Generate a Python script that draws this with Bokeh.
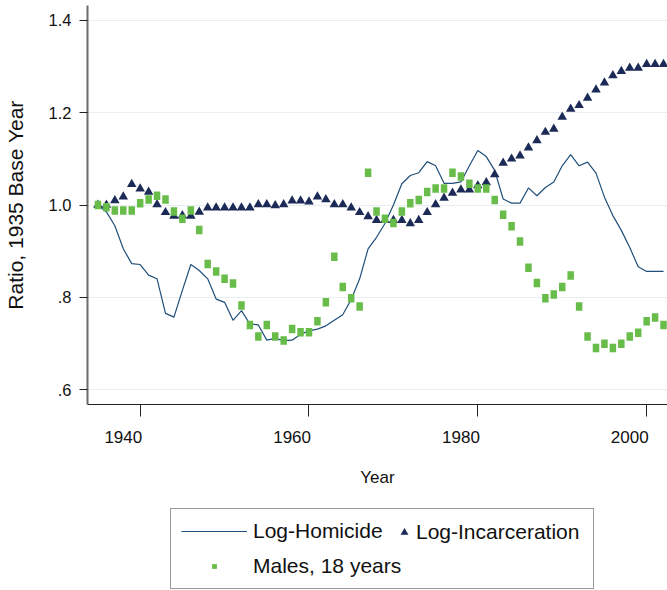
from bokeh.plotting import figure
from bokeh.layouts import column
from bokeh.models import Range1d, FixedTicker, LinearAxis, Legend, LegendItem, ColumnDataSource
from bokeh.embed import file_html
from bokeh.resources import INLINE

# ---------------- data ----------------
years = list(range(1935, 2003))

homicide = [
    1.000, 0.985, 0.955, 0.905, 0.873, 0.871, 0.848, 0.840, 0.765, 0.757,
    0.815, 0.871, 0.858, 0.840, 0.796, 0.789, 0.750, 0.771, 0.742, 0.740,
    0.707, 0.711, 0.706, 0.707, 0.720, 0.727, 0.731, 0.738, 0.750, 0.762,
    0.795, 0.840, 0.905, 0.930, 0.960, 1.000, 1.046, 1.064, 1.070, 1.094,
    1.085, 1.047, 1.047, 1.050, 1.085, 1.118, 1.105, 1.075, 1.013, 1.004,
    1.004, 1.037, 1.020, 1.038, 1.050, 1.085, 1.109, 1.085, 1.093, 1.069,
    1.017, 0.977, 0.945, 0.908, 0.866, 0.856, 0.856, 0.856,
]

incarceration = [
    1.000, 1.000, 1.010, 1.018, 1.045, 1.035, 1.028, 1.001, 0.984, 0.976,
    0.977, 0.976, 0.985, 0.994, 0.994, 0.994, 0.994, 0.994, 0.994, 1.001,
    1.001, 0.999, 1.001, 1.009, 1.009, 1.007, 1.018, 1.012, 1.001, 1.001,
    0.994, 0.984, 0.975, 0.967, 0.967, 0.967, 0.967, 0.960, 0.967, 0.984,
    1.001, 1.015, 1.026, 1.033, 1.033, 1.042, 1.049, 1.066, 1.091, 1.100,
    1.107, 1.124, 1.140, 1.158, 1.165, 1.191, 1.208, 1.216, 1.232, 1.250,
    1.265, 1.281, 1.290, 1.297, 1.297, 1.305, 1.305, 1.305,
]

males18 = [
    1.000, 0.995, 0.988, 0.988, 0.988, 1.004, 1.012, 1.020, 1.012, 0.986,
    0.970, 0.988, 0.946, 0.872, 0.856, 0.840, 0.830, 0.782, 0.740, 0.715,
    0.740, 0.715, 0.706, 0.731, 0.724, 0.724, 0.748, 0.789, 0.888, 0.822,
    0.798, 0.780, 1.070, 0.986, 0.970, 0.961, 0.986, 1.004, 1.011, 1.028,
    1.036, 1.036, 1.070, 1.062, 1.046, 1.036, 1.036, 1.011, 0.979, 0.954,
    0.921, 0.864, 0.831, 0.798, 0.806, 0.822, 0.847, 0.780, 0.715, 0.690,
    0.699, 0.690, 0.699, 0.715, 0.723, 0.748, 0.756, 0.740,
]

x_ticks = [1940, 1960, 1980, 2000]
x_tick_labels = ["1940", "1960", "1980", "2000"]
y_ticks = [0.6, 0.8, 1.0, 1.2, 1.4]
y_tick_labels = [".6", ".8", "1.0", "1.2", "1.4"]

series_names = ["Log-Homicide", "Log-Incarceration", "Males, 18 years"]

# ---------------- styling ----------------
FONT = "Liberation Sans"
LINE_COLOR = "#1f4f7a"
TRI_COLOR = "#1b2a56"
GREEN = "#68bd4a"
GRID = "#e6eef1"
TEXT = "#111111"

src = ColumnDataSource(dict(year=years, hom=homicide, inc=incarceration, male=males18))

p = figure(
    width=667, height=505,
    x_range=Range1d(1933.76, 2002.47),
    y_range=Range1d(0.5675, 1.4325),
    output_backend="svg", toolbar_location=None,
    min_border_left=83, min_border_right=0, min_border_top=5, min_border_bottom=101,
)
p.outline_line_color = None
p.background_fill_color = "white"
p.border_fill_color = "white"

# grid
p.xgrid.visible = False
p.ygrid.ticker = FixedTicker(ticks=y_ticks)
p.ygrid.grid_line_color = GRID
p.ygrid.grid_line_width = 1

# x axis: tick marks only
xa = p.xaxis[0]
xa.ticker = FixedTicker(ticks=x_ticks)
xa.major_label_overrides = {t: "" for t in x_ticks}
xa.major_label_text_font_size = "0px"
xa.major_label_standoff = 0
xa.major_tick_out = 12
xa.major_tick_in = 0
xa.minor_tick_line_color = None
xa.axis_line_color = "#222222"
xa.major_tick_line_color = "#222222"

# x axis: labels (right-aligned to their ticks in the reference, hence shifted 2 years left)
label_pos = [t - 2 for t in x_ticks]
xl = LinearAxis(
    ticker=FixedTicker(ticks=label_pos),
    major_label_overrides=dict(zip(label_pos, x_tick_labels)),
    axis_line_color=None, major_tick_line_color=None, minor_tick_line_color=None,
    major_tick_out=0, major_tick_in=0, major_label_standoff=14,
    major_label_text_font=FONT, major_label_text_font_size="17px",
    major_label_text_color=TEXT,
    axis_label="Year", axis_label_text_font=FONT, axis_label_text_font_size="17px",
    axis_label_text_font_style="normal", axis_label_text_color=TEXT,
    axis_label_standoff=22,
)
p.add_layout(xl, "below")

# y axis
ya = p.yaxis[0]
ya.ticker = FixedTicker(ticks=y_ticks)
ya.major_label_overrides = dict(zip(y_ticks, y_tick_labels))
ya.major_tick_out = 8
ya.major_tick_in = 0
ya.minor_tick_line_color = None
ya.axis_line_color = "#6b6b6b"
ya.axis_line_width = 2
ya.major_tick_line_color = "#222222"
ya.major_label_standoff = 8
ya.major_label_text_font = FONT
ya.major_label_text_font_size = "16.5px"
ya.major_label_text_color = TEXT
ya.axis_label = "Ratio, 1935 Base Year"
ya.axis_label_text_font = FONT
ya.axis_label_text_font_size = "21px"
ya.axis_label_text_font_style = "normal"
ya.axis_label_text_color = TEXT
ya.axis_label_standoff = 19

# glyphs
p.line("year", "hom", source=src, line_color=LINE_COLOR, line_width=1.2)
p.scatter("year", "inc", source=src, marker="triangle", size=9.5,
          fill_color=TRI_COLOR, line_color=None)
p.rect("year", "male", source=src, width=6.5, height=8.5,
       width_units="screen", height_units="screen",
       fill_color=GREEN, line_color=None)

# ---------------- legend strip (separate figure below the plot) ----------------
leg = figure(
    width=667, height=85, x_range=Range1d(0, 1), y_range=Range1d(0, 1),
    output_backend="svg", toolbar_location=None,
    x_axis_type=None, y_axis_type=None,
    min_border_left=0, min_border_right=0, min_border_top=0, min_border_bottom=0,
)
leg.outline_line_color = None
leg.xgrid.visible = False
leg.ygrid.visible = False
leg.background_fill_color = "white"
leg.border_fill_color = "white"

# legend key renderers share the data source (their marks fall outside this strip's ranges)
k_line = leg.line("year", "hom", source=src, line_color=LINE_COLOR, line_width=1.2)
k_tri = leg.scatter("year", "inc", source=src, marker="triangle",
                    fill_color=TRI_COLOR, line_color=None)
k_sq = leg.scatter("year", "male", source=src, marker="square",
                   fill_color=GREEN, line_color=None)

# the strip's frame is aligned with the main plot's frame (x offsets relative to it)
leg_a = Legend(
    items=[LegendItem(label=series_names[0], renderers=[k_line]),
           LegendItem(label=series_names[2], renderers=[k_sq])],
    location=(83, 1), orientation="vertical",
    glyph_width=66, glyph_height=12, label_height=24, label_width=330,
    label_standoff=6, spacing=11, padding=10, margin=0,
    label_text_font=FONT, label_text_font_size="21px", label_text_color=TEXT,
    border_line_color="#333333", border_line_width=1,
    background_fill_color="white", background_fill_alpha=1.0,
)
leg_b = Legend(
    items=[LegendItem(label=series_names[1], renderers=[k_tri])],
    location=(307, 46), orientation="vertical",
    glyph_width=20, glyph_height=20, label_height=24,
    label_standoff=2, spacing=0, padding=0, margin=0,
    label_text_font=FONT, label_text_font_size="21px", label_text_color=TEXT,
    border_line_color=None, background_fill_alpha=0,
)
leg.add_layout(leg_a, "center")
leg.add_layout(leg_b, "center")

layout = column(p, leg, spacing=0)

open("out.html", "w").write(file_html(layout, INLINE))
